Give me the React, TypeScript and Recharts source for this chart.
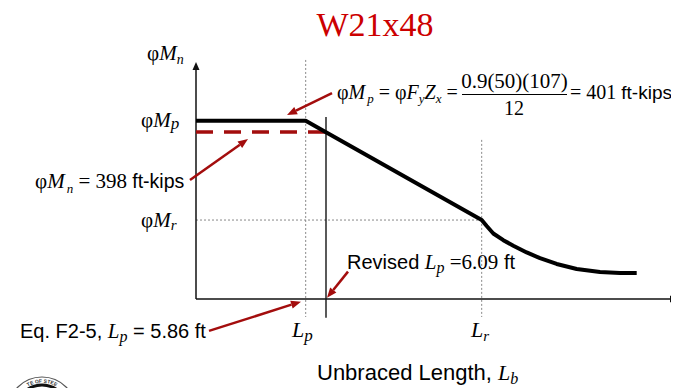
import React from 'react';
import { ComposedChart, Line, XAxis, YAxis, ReferenceLine } from 'recharts';

// Schematic unbraced length (x) and design moment (y) values
const lbValues = [0, 10.97, 13.0, 28.57, 29.07, 29.73, 30.73, 31.73, 33.07, 34.4, 36.07, 38.07, 40.4, 42.4, 44.07];
const phiMnValues = [74.3, 74.3, 69.5, 32.9, 30.4, 27.3, 24.5, 22.2, 19.4, 17.0, 14.6, 12.5, 11.25, 10.8, 10.8];

const LP = 10.97;
const LP_REVISED = 13.0;
const LR = 28.57;
const PHI_MN = 69.6;
const PHI_MR = 32.9;
const X_MAX = 48.2;
const Y_MAX = 100;
const Y_ARROW = 98.75;

// Annotation arrows: [fromX, fromY, toX, toY]
const arrowMp = [13.6, 85.8, 9.1, 76.7];
const arrowMn = [-0.6, 49.6, 5.2, 66.7];
const arrowRevised = [15.2, 11.4, 13.1, 0.5];
const arrowEq = [1.3, -13.3, 10.5, -1.1];

const data = lbValues.map((lb, i) => ({ lb, phiMn: phiMnValues[i] }));

const SERIF = "'Liberation Serif', 'Times New Roman', serif";
const SANS = "'Liberation Sans', Arial, sans-serif";
const RED = '#a30d0d';

const arrowShape = (color: string, width: number, headLen: number, headW: number) => (props: any) => {
  const { x1, y1, x2, y2 } = props;
  const dx = x2 - x1;
  const dy = y2 - y1;
  const len = Math.sqrt(dx * dx + dy * dy) || 1;
  const ux = dx / len;
  const uy = dy / len;
  const bx = x2 - ux * headLen;
  const by = y2 - uy * headLen;
  const px = -uy * headW / 2;
  const py = ux * headW / 2;
  return (
    <g>
      <line x1={x1} y1={y1} x2={bx} y2={by} stroke={color} strokeWidth={width} />
      <polygon points={`${x2},${y2} ${bx + px},${by + py} ${bx - px},${by - py}`} fill={color} />
    </g>
  );
};

const redArrow = arrowShape(RED, 2.5, 10, 8);
const axisArrow = arrowShape('#111', 1.5, 8, 7);

const seg = (a: number[]) => [{ x: a[0], y: a[1] }, { x: a[2], y: a[3] }];

export default function App() {
  return (
    <div style={{ position: 'relative', width: 671, height: 380 }}>
      <ComposedChart width={671} height={380} data={data} margin={{ top: 51, right: 1, bottom: 89, left: 188 }}>
        <XAxis type="number" dataKey="lb" domain={[0, X_MAX]} hide allowDataOverflow />
        <YAxis type="number" domain={[0, Y_MAX]} hide allowDataOverflow />
        <ReferenceLine segment={[{ x: LP, y: 99.6 }, { x: LP, y: -7.5 }]} stroke="#888" strokeWidth={1} strokeDasharray="2 2" ifOverflow="visible" />
        <ReferenceLine segment={[{ x: LR, y: 66.3 }, { x: LR, y: -7.5 }]} stroke="#888" strokeWidth={1} strokeDasharray="2 2" ifOverflow="visible" />
        <ReferenceLine segment={[{ x: 0, y: PHI_MR }, { x: LR, y: PHI_MR }]} stroke="#888" strokeWidth={1} strokeDasharray="2 2" ifOverflow="visible" />
        <ReferenceLine segment={[{ x: LP_REVISED, y: 75.8 }, { x: LP_REVISED, y: -7.8 }]} stroke="#000" strokeWidth={1.3} ifOverflow="visible" />
        <ReferenceLine segment={[{ x: 0, y: 0 }, { x: X_MAX, y: 0 }]} shape={axisArrow} ifOverflow="visible" />
        <ReferenceLine segment={[{ x: 0, y: 0 }, { x: 0, y: Y_ARROW }]} shape={axisArrow} ifOverflow="visible" />
        <ReferenceLine segment={[{ x: 0, y: PHI_MN }, { x: LP_REVISED, y: PHI_MN }]} stroke={RED} strokeWidth={3.5} strokeDasharray="17 11" ifOverflow="visible" />
        <Line type="linear" dataKey="phiMn" stroke="#000" strokeWidth={4} dot={false} strokeLinejoin="round" isAnimationActive={false} />
        <ReferenceLine segment={seg(arrowMp)} shape={redArrow} ifOverflow="visible" />
        <ReferenceLine segment={seg(arrowMn)} shape={redArrow} ifOverflow="visible" />
        <ReferenceLine segment={seg(arrowRevised)} shape={redArrow} ifOverflow="visible" />
        <ReferenceLine segment={seg(arrowEq)} shape={redArrow} ifOverflow="visible" />
      </ComposedChart>
      <svg width={679} height={388} style={{ position: 'absolute', left: -8, top: -8, pointerEvents: 'none' }}>
        <text x={375} y={36} textAnchor="middle" fontFamily={SERIF} fontSize={34} fill="#cc0000">W21x48</text>

        <text x={147} y={60} fontFamily={SERIF} fontSize={21} fill="#000">
          <tspan>φ</tspan><tspan fontStyle="italic">M</tspan>
          <tspan fontStyle="italic" fontSize={14} dy={4}>n</tspan>
        </text>
        <text x={141} y={127} fontFamily={SERIF} fontSize={21} fill="#000">
          <tspan>φ</tspan><tspan fontStyle="italic">M</tspan>
          <tspan fontStyle="italic" fontSize={17} dy={2}>p</tspan>
        </text>
        <text x={141} y={227} fontFamily={SERIF} fontSize={21} fill="#000">
          <tspan>φ</tspan><tspan fontStyle="italic">M</tspan>
          <tspan fontStyle="italic" fontSize={15} dy={3}>r</tspan>
        </text>

        <text x={35} y={188} fontFamily={SERIF} fontSize={21} fill="#000">
          <tspan>φ</tspan><tspan fontStyle="italic">M</tspan>
          <tspan fontStyle="italic" fontSize={13} dy={5} dx={2}>n</tspan>
          <tspan dy={-5}>{' = 398 '}</tspan>
          <tspan fontFamily={SANS} fontSize={19.5}>ft-kips</tspan>
        </text>

        <text x={337} y={99} fontFamily={SERIF} fontSize={20} fill="#000">
          <tspan>φ</tspan><tspan fontStyle="italic">M</tspan>
          <tspan fontStyle="italic" fontSize={13} dy={4} dx={2}>p</tspan>
          <tspan dy={-4}>{' = φ'}</tspan><tspan fontStyle="italic">F</tspan>
          <tspan fontStyle="italic" fontSize={13} dy={4}>y</tspan>
          <tspan fontStyle="italic" dy={-4}>Z</tspan>
          <tspan fontStyle="italic" fontSize={13} dy={4}>x</tspan>
          <tspan dy={-4}>{' ='}</tspan>
        </text>
        <text x={514.5} y={88} textAnchor="middle" fontFamily={SERIF} fontSize={21} fill="#000">0.9(50)(107)</text>
        <line x1={462} y1={94.5} x2={567} y2={94.5} stroke="#000" strokeWidth={1} />
        <text x={514} y={115} textAnchor="middle" fontFamily={SERIF} fontSize={20} fill="#000">12</text>
        <text x={570} y={99} fontFamily={SERIF} fontSize={20} fill="#000">
          <tspan>{'= 401 '}</tspan>
          <tspan fontFamily={SANS} fontSize={19}>ft-kips</tspan>
        </text>

        <text x={347} y={269} fontFamily={SANS} fontSize={20} fill="#000">
          <tspan>{'Revised '}</tspan>
          <tspan fontFamily={SERIF} fontStyle="italic" fontSize={21}>L</tspan>
          <tspan fontFamily={SERIF} fontStyle="italic" fontSize={16} dy={4}>p</tspan>
          <tspan fontFamily={SERIF} fontSize={21} dy={-4}>{' =6.09'}</tspan>
          <tspan>{' ft'}</tspan>
        </text>

        <text x={20} y={338} fontFamily={SANS} fontSize={20} fill="#000">
          <tspan>{'Eq. F2-5, '}</tspan>
          <tspan fontFamily={SERIF} fontStyle="italic" fontSize={21}>L</tspan>
          <tspan fontFamily={SERIF} fontStyle="italic" fontSize={16} dy={4}>p</tspan>
          <tspan dy={-4}>{' = 5.86 ft'}</tspan>
        </text>

        <text x={292} y={337} fontFamily={SERIF} fontSize={22} fill="#000">
          <tspan fontStyle="italic">L</tspan>
          <tspan fontStyle="italic" fontSize={17} dy={4}>p</tspan>
        </text>
        <text x={471} y={337} fontFamily={SERIF} fontSize={22} fill="#000">
          <tspan fontStyle="italic">L</tspan>
          <tspan fontStyle="italic" fontSize={15} dy={4}>r</tspan>
        </text>

        <text x={317} y={380} fontFamily={SANS} fontSize={22} fill="#000">
          <tspan>{'Unbraced Length, '}</tspan>
          <tspan fontFamily={SERIF} fontStyle="italic" fontSize={22}>L</tspan>
          <tspan fontFamily={SERIF} fontStyle="italic" fontSize={16} dy={4}>b</tspan>
        </text>

        <circle cx={42} cy={411} r={34} fill="#fff" stroke="#555" strokeWidth={1.2} />
        <circle cx={42} cy={411} r={26} fill="none" stroke="#111" strokeWidth={3} />
        <path id="sealArc" d="M 24 389 A 29 29 0 0 1 60 389" fill="none" />
        <text fontFamily={SANS} fontSize={5} fontWeight="bold" fill="#333">
          <textPath href="#sealArc" startOffset="50%" textAnchor="middle">TE OF STEE</textPath>
        </text>
      </svg>
    </div>
  );
}
